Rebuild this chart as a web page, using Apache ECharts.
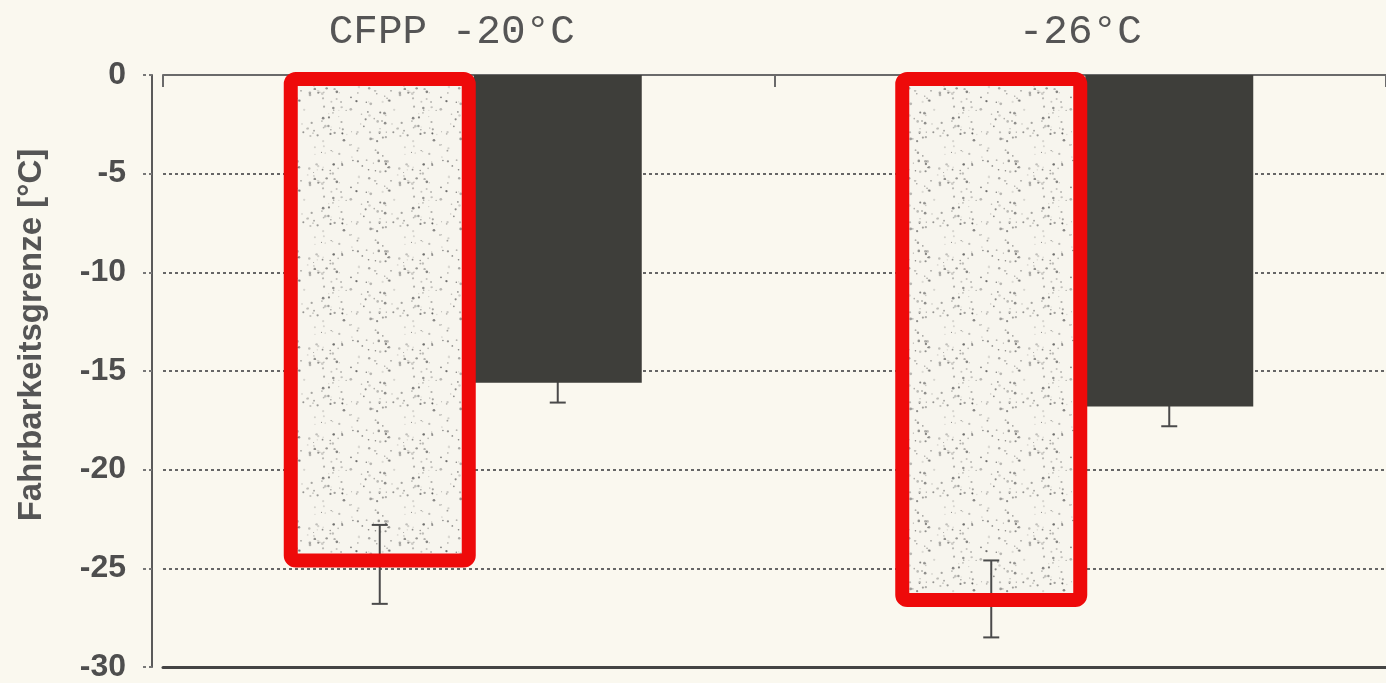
<!DOCTYPE html>
<html><head><meta charset="utf-8">
<script src="https://cdn.jsdelivr.net/npm/echarts@6/dist/echarts.min.js"></script>
<style>html,body{margin:0;padding:0;background:#faf8ef}#c{width:1386px;height:683px}</style>
</head><body><div id="c"></div>
<script>
// ---- data ----
const categories = ['CFPP -20°C', '-26°C'];
const speckledValues = [-24.6, -26.6];
const darkValues = [-15.6, -16.8];
const speckledErrLow = [-26.8, -28.5];
const speckledErrHigh = [-22.8, -24.6];
const darkErrLow = [-16.6, -17.8];
const darkErrHigh = [-14.6, -15.8];
const yTicks = [0, -5, -10, -15, -20, -25, -30];
const yAxisTitle = 'Fahrbarkeitsgrenze [°C]';

// ---- style ----
const BAR_W = 168, GAP = 10, HALF = (BAR_W + GAP) / 2;

function speckle() {
  const c = document.createElement('canvas');
  c.width = 90; c.height = 90;
  const g = c.getContext('2d');
  g.fillStyle = '#f7f5ee'; g.fillRect(0, 0, 90, 90);
  let s = 12345;
  const rnd = () => { s = (s * 1103515245 + 12345) % 2147483648; return s / 2147483648; };
  for (let i = 0; i < 150; i++) {
    const x = rnd() * 90, y = rnd() * 90, r = 0.5 + rnd() * 0.9;
    const a = 0.15 + rnd() * 0.5;
    g.fillStyle = 'rgba(70,70,70,' + a.toFixed(2) + ')';
    g.beginPath(); g.arc(x, y, r, 0, Math.PI * 2); g.fill();
  }
  return c;
}

const specOverlay = categories.map((c, i) => [i, speckledValues[i], speckledErrLow[i], speckledErrHigh[i]]);
const darkErr = categories.map((c, i) => [i, darkErrLow[i], darkErrHigh[i]]);

function errBar(api, cx, lo, hi) {
  const pLo = api.coord([0, lo])[1], pHi = api.coord([0, hi])[1];
  const st = { stroke: '#4a4a4a', lineWidth: 2 };
  return [
    { type: 'line', shape: { x1: cx, y1: pHi, x2: cx, y2: pLo }, style: st },
    { type: 'line', shape: { x1: cx - 8, y1: pHi, x2: cx + 8, y2: pHi }, style: st },
    { type: 'line', shape: { x1: cx - 8, y1: pLo, x2: cx + 8, y2: pLo }, style: st }
  ];
}

const chart = echarts.init(document.getElementById('c'));
chart.setOption({
  backgroundColor: '#faf8ef',
  animation: false,
  grid: { left: 163, top: 75, width: 1236, height: 595 },
  xAxis: [{
    type: 'category',
    data: [{ value: categories[0], textStyle: { padding: [0, 34, 0, 0] } }, { value: categories[1] }],
    position: 'top', axisLine: { onZero: false, lineStyle: { color: '#6a6a6a', width: 2 } },
    axisTick: { show: true, inside: true, length: 12, lineStyle: { color: '#6a6a6a', width: 2 } },
    axisLabel: { margin: 22, fontFamily: 'Liberation Mono', fontSize: 41, color: '#555' }
  }, {
    type: 'category', data: categories, position: 'bottom',
    axisLine: { onZero: false, lineStyle: { color: '#444', width: 3 } },
    axisTick: { show: false }, axisLabel: { show: false }
  }],
  yAxis: {
    type: 'value', min: -30, max: 0, interval: 5, offset: 11,
    axisLine: { show: true, lineStyle: { color: '#5a5a5a', width: 2 } },
    axisTick: { show: true, length: 9, lineStyle: { color: '#777', width: 2, type: [3, 3] } },
    axisLabel: { margin: 26, fontFamily: 'Liberation Sans', fontWeight: 'bold', fontSize: 32, color: '#4e4e4e', padding: [0, 0, 14, 0] },
    splitLine: { show: true, lineStyle: { color: '#666', width: 2, type: [3, 3] } }
  },
  graphic: [{
    type: 'text', x: 32, y: 335, rotation: Math.PI / 2,
    style: { text: yAxisTitle, font: 'bold 33px "Liberation Sans"', fill: '#555', align: 'center', verticalAlign: 'middle' }
  }],
  series: [{
    type: 'custom', data: darkErr, z: 1,
    renderItem: function (params, api) {
      const cx = api.coord([api.value(0), 0])[0] + HALF;
      return { type: 'group', children: errBar(api, cx, api.value(1), api.value(2)) };
    }
  }, {
    type: 'bar', data: speckledValues, barWidth: BAR_W, barGap: (GAP / BAR_W * 100) + '%', z: 2,
    itemStyle: { color: { image: speckle(), repeat: 'repeat' } }
  }, {
    type: 'bar', data: darkValues, barWidth: BAR_W, z: 2,
    itemStyle: { color: '#3e3e3a' }
  }, {
    type: 'custom', data: specOverlay, z: 5,
    renderItem: function (params, api) {
      const c = api.coord([api.value(0), 0]);
      const sx = c[0] - HALF;
      const y0 = c[1] + 4;
      const yv = api.coord([api.value(0), api.value(1)])[1];
      const children = errBar(api, sx, api.value(2), api.value(3));
      children.push({
        type: 'rect', shape: { x: sx - BAR_W / 2 - 5, y: y0, width: BAR_W + 10, height: yv - y0, r: 5 },
        style: { fill: 'none', stroke: '#ee0a0a', lineWidth: 14 }
      });
      return { type: 'group', children: children };
    }
  }]
});
</script></body></html>
